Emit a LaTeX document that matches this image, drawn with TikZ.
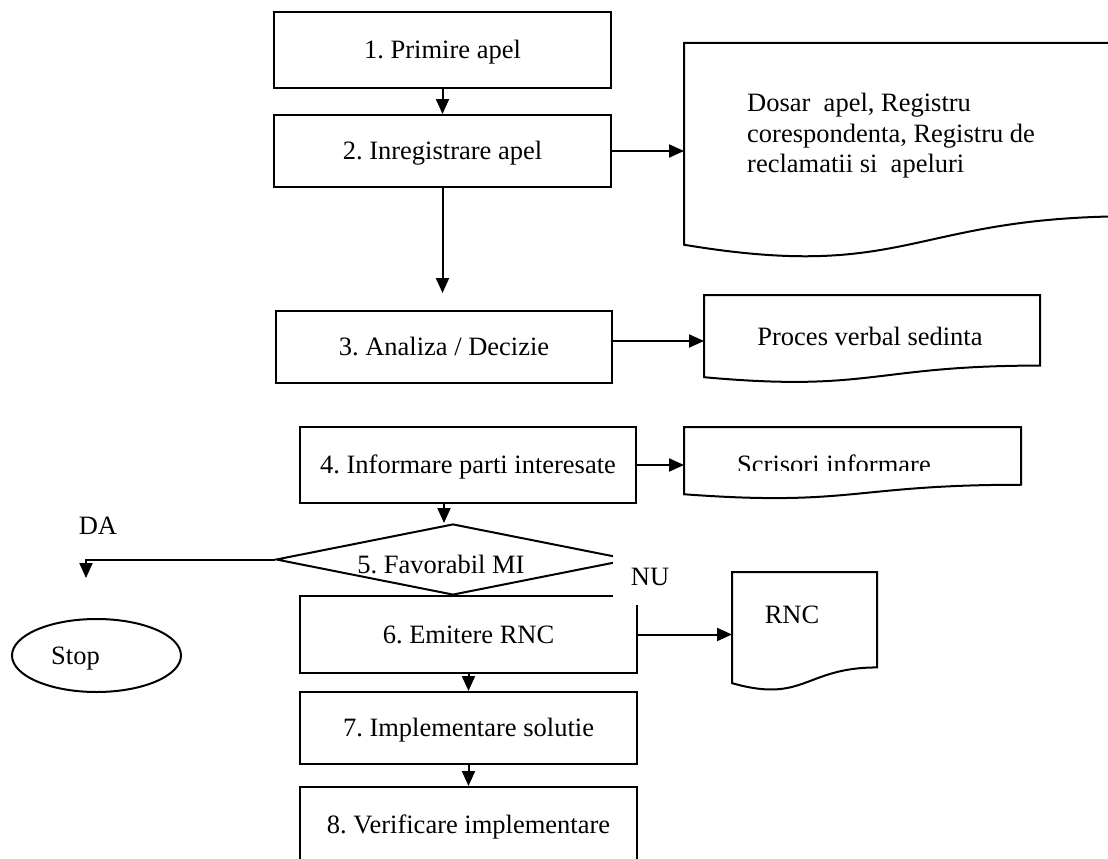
\documentclass[tikz,border=0pt]{standalone}
\usepackage{fontspec}
\setmainfont{Liberation Serif}
\usetikzlibrary{arrows.meta,shapes.geometric}
\newcommand\docpath[4]{%
  \draw[ln] (#1,#2) -- ({#1+#3},#2) -- ({#1+#3},{#2+0.802*#4})
    .. controls ({#1+0.5*#3},{#2+0.802*#4}) and ({#1+0.5*#3},{#2+1.1075*#4}) ..
    (#1,{#2+0.934*#4}) -- cycle;}
\begin{document}
\frenchspacing
\begin{tikzpicture}[x=1pt,y=-1pt,
  ln/.style={line width=2pt,line join=miter},
  arr/.style={ln,-{Triangle[width=13pt,length=15pt]}},
  box/.style={draw,ln,rectangle,inner sep=0pt,minimum width=337pt,text height=18pt,text depth=1pt},
  txt/.style={inner sep=0pt,anchor=base},
  anchorbox/.style={inner sep=0pt,anchor=north west},
  every node/.style={font=\fontsize{26.5}{30.5}\selectfont}]
\useasboundingbox (0,0) rectangle (1108,859);
\clip (0,0) rectangle (1108,859);
\fill[white] (0,0) rectangle (1108,859);

% process boxes
\node[box,minimum height=76pt] (b1) at (442.5,50) {1. Primire apel};
\node[box,minimum height=72pt] (b2) at (442.5,151) {2. Inregistrare apel};
\node[box,minimum width=336pt,minimum height=72pt] (b3) at (444,347) {3. Analiza / Decizie};
\node[box,minimum width=336pt,minimum height=76pt] (b4) at (468,465) {4. Informare parti interesate};
\node[draw,ln,diamond,aspect=5,inner sep=0pt,minimum width=354pt,minimum height=71pt,
      text height=28pt,text depth=1pt] (b5) at (453,559.5) {5. Favorabil MI\hspace*{24pt}};
\node[box,minimum height=77pt] (b6) at (468.5,634.5) {6. Emitere RNC};
\node[box,minimum height=72pt] (b7) at (468.5,728) {7. Implementare solutie};
\node[box,minimum height=75pt] (b8) at (468.5,824.5) {8. Verificare implementare};
\node[draw,ln,ellipse,inner sep=0pt,minimum width=169pt,minimum height=73pt,
      text height=18pt,text depth=1pt] (stop) at (96.5,655.5) {Stop\hspace*{42pt}};

% document shapes
\node[anchorbox,minimum width=450pt,minimum height=202pt] (d2) at (684,43) {};
\docpath{684}{43}{450}{216}
\node[anchorbox,minimum width=336pt,minimum height=82pt] (d3) at (704,295) {};
\docpath{704}{295}{336}{88}
\node[anchorbox,minimum width=337pt,minimum height=67pt] (d4) at (684,427) {};
\docpath{684}{427}{337}{72}
\node[anchorbox,minimum width=145pt,minimum height=111pt] (d6) at (732,572) {};
\docpath{732}{572}{145}{119}

% document texts
\node[inner sep=0pt,anchor=north west,align=left] (t2) at (747,93)
  {Dosar~ apel, Registru\\corespondenta, Registru de\\reclamatii si~ apeluri};
\node[txt] (t3) at (870,345) {Proces verbal sedinta};
\begin{scope}
  \clip (684,427) rectangle (1021,470.5);
  \node[txt] (t4) at (834,473) {Scrisori informare};
\end{scope}
\node[txt] (t6) at (792,623) {RNC};

% connectors
\draw[arr] (b1.south) -- (b2.north);
\draw[arr] (b2.east) -- (b2.east -| d2.west);
\coordinate (e23) at ([yshift=17pt]b3.north);
\draw[arr] (b2.south) -- (b2.south |- e23);
\coordinate (s3) at ([yshift=6pt]b3.east);
\draw[arr] (s3) -- (s3 -| d3.west);
\draw[arr] (b4.east) -- (b4.east -| d4.west);
\coordinate (s45) at ([xshift=-24pt]b4.south);
\draw[arr] (s45) -- (s45 |- b5.north);
\coordinate (daend) at (86,578);
\draw[arr] (b5.west) -| (daend);
\draw[arr] (b6.east) -- (b6.east -| d6.west);
\draw[arr] (b6.south) -- (b7.north);
\draw[arr] (b7.south) -- (b8.north);

% white patch hiding the right tip of the decision and the corner of box 6
\fill[white] (612.5,540) rectangle (690,604.5);
\node[txt] (nu) at (650,585) {NU};
\node[txt] (da) at (98,534) {DA};
\end{tikzpicture}
\end{document}
